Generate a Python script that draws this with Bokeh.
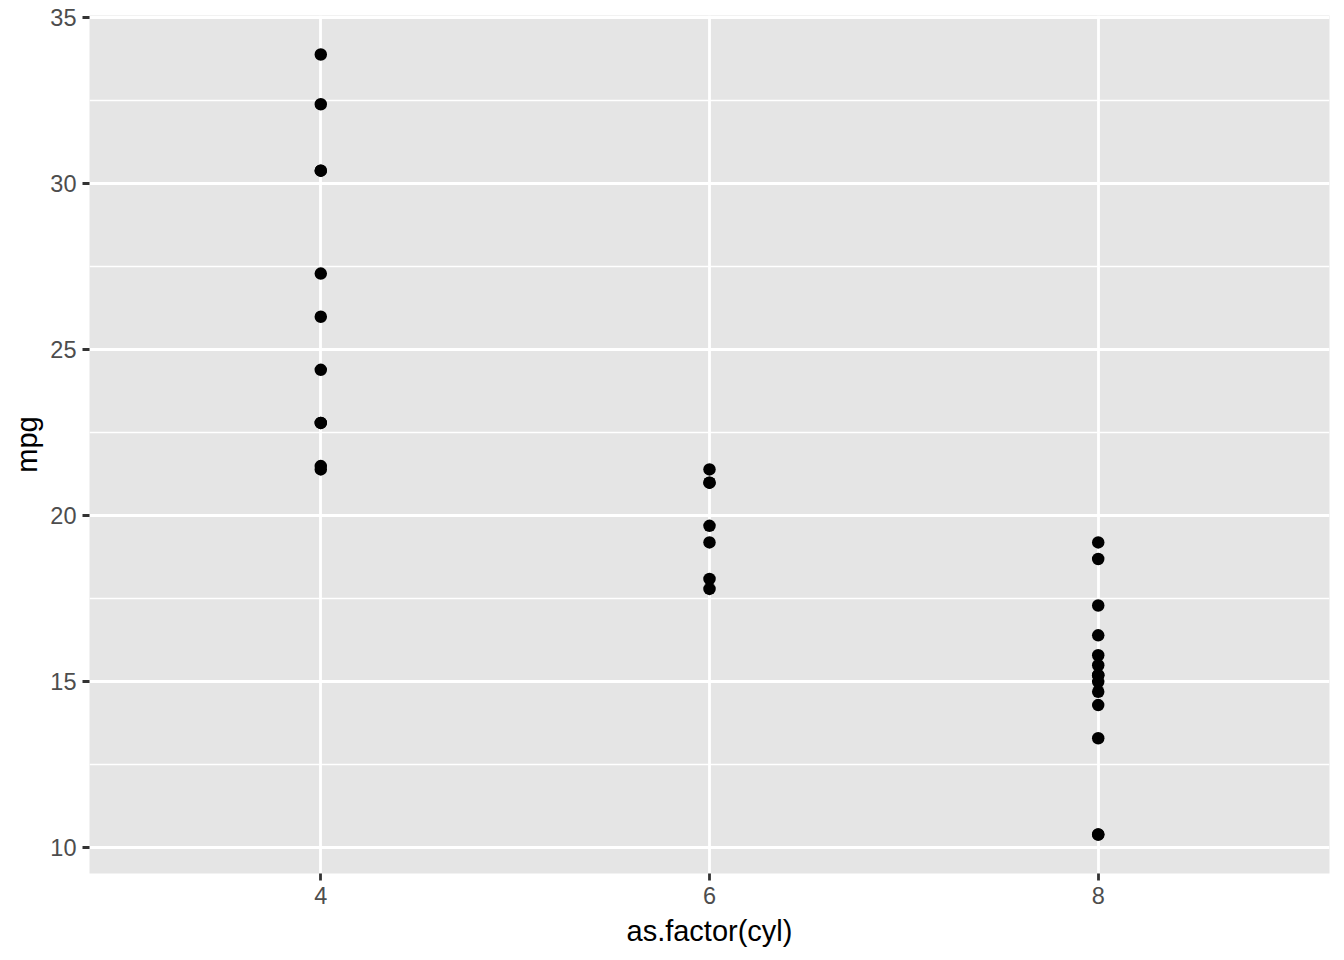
from bokeh.plotting import figure
from bokeh.models import Range1d, FixedTicker
from bokeh.embed import file_html
from bokeh.resources import INLINE

# mtcars: cylinders and miles per gallon
cyl = [6, 6, 4, 6, 8, 6, 8, 4, 4, 6, 6, 8, 8, 8, 8, 8,
       8, 4, 4, 4, 4, 8, 8, 8, 8, 4, 4, 4, 8, 6, 8, 4]
mpg = [21.0, 21.0, 22.8, 21.4, 18.7, 18.1, 14.3, 24.4, 22.8, 19.2, 17.8, 16.4,
       17.3, 15.2, 10.4, 10.4, 14.7, 32.4, 30.4, 33.9, 21.5, 15.5, 15.2, 13.3,
       19.2, 27.3, 26.0, 30.4, 15.8, 19.7, 15.0, 21.4]
x_ticks = [4, 6, 8]
y_ticks = [10, 15, 20, 25, 30, 35]
y_minor = [12.5, 17.5, 22.5, 27.5, 32.5]

FONT = "Liberation Sans"

p = figure(width=1344, height=960, output_backend="svg", toolbar_location=None,
           x_range=Range1d(2.81, 9.19), y_range=Range1d(9.225, 35.075),
           min_border_left=89, min_border_top=15, min_border_right=15, min_border_bottom=87)

p.background_fill_color = "#E5E5E5"
p.border_fill_color = "white"
p.outline_line_color = None

p.xaxis.ticker = FixedTicker(ticks=x_ticks, minor_ticks=[])
p.yaxis.ticker = FixedTicker(ticks=y_ticks, minor_ticks=y_minor)

for ax in (p.xaxis, p.yaxis):
    ax.axis_line_color = None
    ax.minor_tick_line_color = None
    ax.major_tick_in = 0
    ax.major_tick_out = 7
    ax.major_tick_line_color = "#333333"
    ax.major_tick_line_width = 2.8
    ax.major_label_text_font = FONT
    ax.major_label_text_font_size = "23.5px"
    ax.major_label_text_color = "#4D4D4D"
    ax.major_label_standoff = 6
    ax.axis_label_text_font = FONT
    ax.axis_label_text_font_size = "29px"
    ax.axis_label_text_font_style = "normal"
    ax.axis_label_text_color = "black"

p.xaxis.axis_label = "as.factor(cyl)"
p.yaxis.axis_label = "mpg"
p.xaxis.axis_label_standoff = 8
p.yaxis.axis_label_standoff = 4

p.xgrid.grid_line_color = "white"
p.xgrid.grid_line_width = 2.8
p.ygrid.grid_line_color = "white"
p.ygrid.grid_line_width = 2.8
p.ygrid.minor_grid_line_color = "white"
p.ygrid.minor_grid_line_width = 1.4

p.scatter(x=cyl, y=mpg, size=12.5, color="black", line_width=0)

open("out.html", "w").write(file_html(p, INLINE))
